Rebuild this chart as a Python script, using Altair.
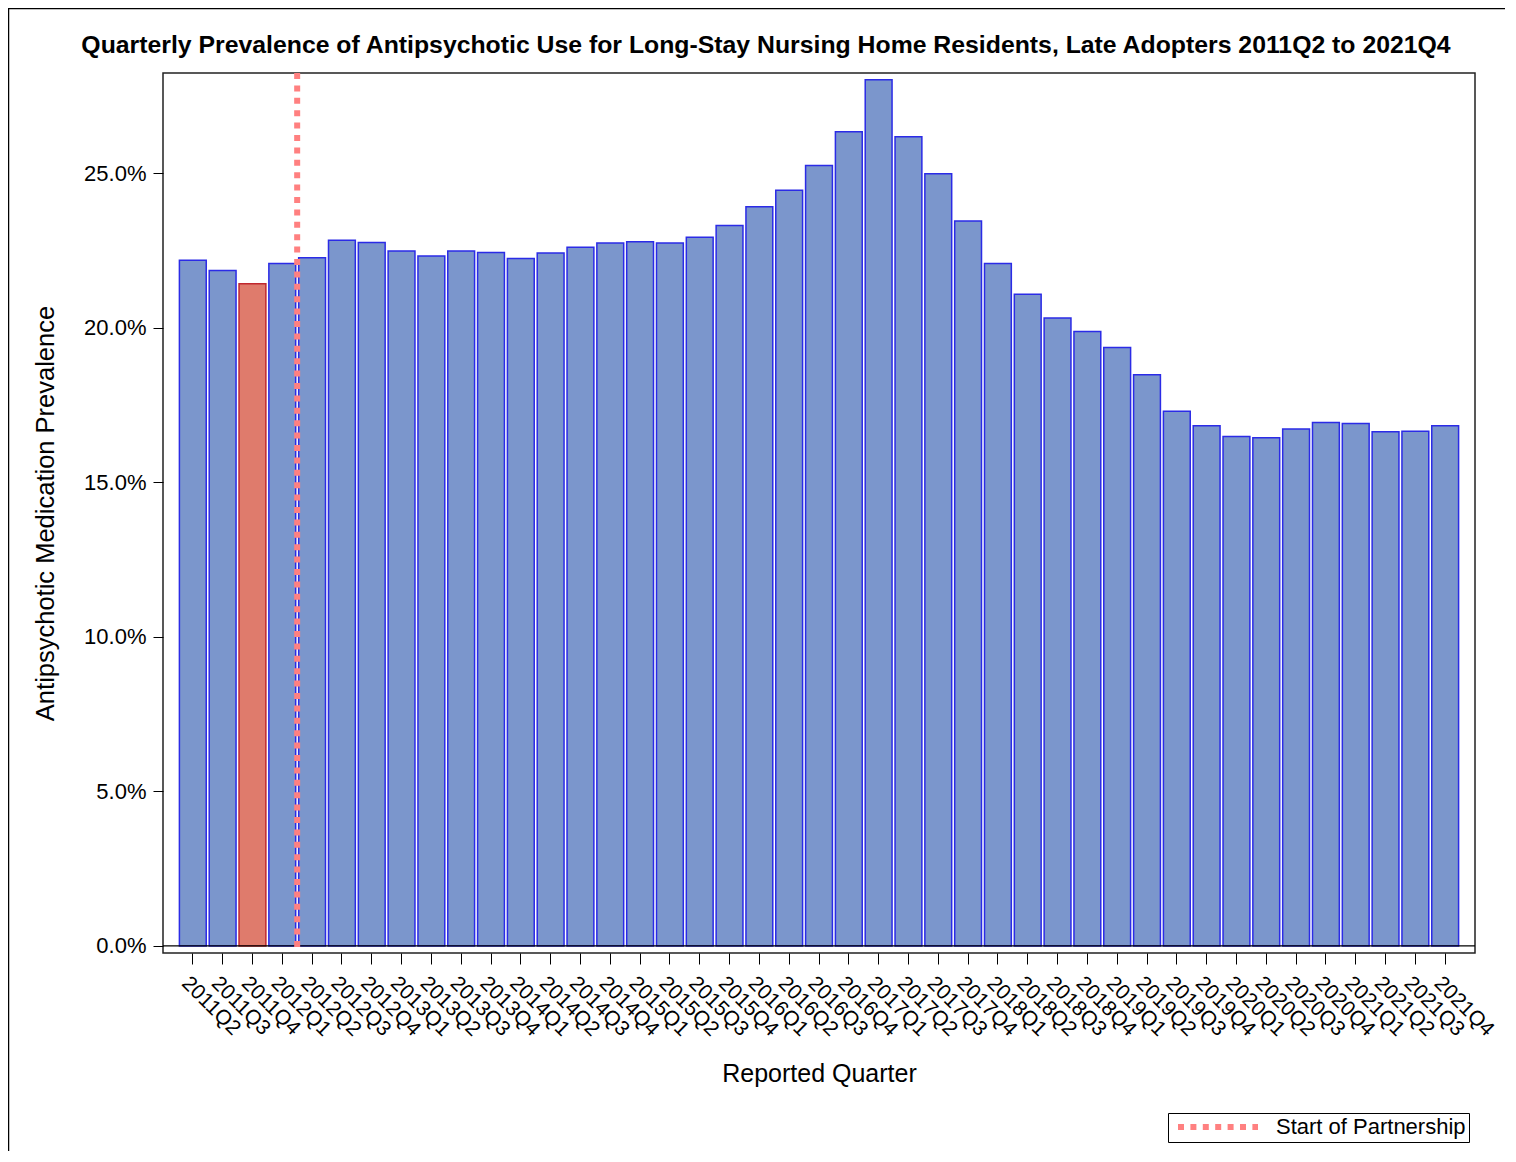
import altair as alt
import pandas as pd

quarters = [
    "2011Q2", "2011Q3", "2011Q4",
    "2012Q1", "2012Q2", "2012Q3", "2012Q4",
    "2013Q1", "2013Q2", "2013Q3", "2013Q4",
    "2014Q1", "2014Q2", "2014Q3", "2014Q4",
    "2015Q1", "2015Q2", "2015Q3", "2015Q4",
    "2016Q1", "2016Q2", "2016Q3", "2016Q4",
    "2017Q1", "2017Q2", "2017Q3", "2017Q4",
    "2018Q1", "2018Q2", "2018Q3", "2018Q4",
    "2019Q1", "2019Q2", "2019Q3", "2019Q4",
    "2020Q1", "2020Q2", "2020Q3", "2020Q4",
    "2021Q1", "2021Q2", "2021Q3", "2021Q4",
]
prevalence = [
    22.18, 21.85, 21.42,
    22.08, 22.26, 22.83, 22.76,
    22.48, 22.32, 22.48, 22.43,
    22.24, 22.42, 22.60, 22.74,
    22.78, 22.74, 22.93, 23.31,
    23.91, 24.45, 25.25, 26.34,
    28.02, 26.18, 24.98, 23.45,
    22.08, 21.08, 20.31, 19.88,
    19.36, 18.48, 17.30, 16.83,
    16.48, 16.44, 16.72, 16.93,
    16.90, 16.63, 16.65, 16.83,
]
highlight_quarter = "2011Q4"
partnership_quarter = "2012Q2"
partnership_label = "Start of Partnership"

FONT = "Liberation Sans"
W, H = 1312, 880

df = pd.DataFrame({"quarter": quarters, "prev": prevalence})
df["grp"] = ["hi" if q == highlight_quarter else "base" for q in quarters]

x_enc = alt.X(
    "quarter:N",
    sort=quarters,
    scale=alt.Scale(domain=quarters, paddingInner=0.1, paddingOuter=0.55),
    axis=alt.Axis(
        title="Reported Quarter",
        labelAngle=45,
        labelFontSize=21,
        labelFont=FONT,
        labelColor="black",
        labelPadding=8,
        tickSize=11,
        tickColor="black",
        domain=False,
        titleFontSize=25,
        titleFont=FONT,
        titleFontWeight="normal",
        titleColor="black",
        titlePadding=22,
    ),
)

bars = alt.Chart(df).mark_bar(strokeWidth=1.5).encode(
    x=x_enc,
    y=alt.Y(
        "prev:Q",
        scale=alt.Scale(domain=[-0.23, 28.24], nice=False, zero=False),
        axis=alt.Axis(
            title="Antipsychotic Medication Prevalence",
            values=[0, 5, 10, 15, 20, 25],
            labelExpr="format(datum.value, '.1f') + '%'",
            labelFontSize=22,
            labelFont=FONT,
            labelColor="black",
            labelPadding=7,
            tickSize=10,
            tickColor="black",
            domain=False,
            grid=False,
            titleFontSize=25.5,
            titleFont=FONT,
            titleFontWeight="normal",
            titleColor="black",
            titlePadding=25,
        ),
    ),
    fill=alt.Fill("grp:N", scale=alt.Scale(domain=["base", "hi"], range=["#7b96cc", "#df7b6c"]), legend=None),
    stroke=alt.Stroke("grp:N", scale=alt.Scale(domain=["base", "hi"], range=["#2b2be6", "#c0282e"]), legend=None),
)

zero_df = pd.DataFrame({"y": [0]})
zero_line = alt.Chart(zero_df).mark_rule(color="black", strokeWidth=1.2).encode(
    y="y:Q",
    x=alt.value(0),
    x2=alt.value(W),
)

part_df = pd.DataFrame({"quarter": [partnership_quarter], "label": [partnership_label]})
part_line = alt.Chart(part_df).mark_rule(strokeWidth=6, strokeDash=[6, 6.4], xOffset=-1.5).encode(
    x=alt.X("quarter:N", sort=quarters, bandPosition=0),
    color=alt.Color(
        "label:N",
        scale=alt.Scale(range=["#ff8080"]),
        legend=alt.Legend(
            title=None,
            orient="none",
            legendX=1005,
            legendY=1040,
            symbolType="M-5,0H5",
            symbolSize=256,
            symbolStrokeWidth=6,
            symbolDash=[6, 6.4],
            symbolOffset=36,
            labelFontSize=22,
            labelFont=FONT,
            labelColor="black",
            labelOffset=47,
            labelLimit=500,
            padding=3,
            strokeColor="black",
            fillColor="white",
            cornerRadius=0,
        ),
    ),
)

border_df = pd.DataFrame({"k": [0]})
border_left = alt.Chart(border_df).mark_rule(color="black", strokeWidth=1.5).encode(
    x=alt.value(-154.5), y=alt.value(-65), y2=alt.value(H + 200)
)
border_top = alt.Chart(border_df).mark_rule(color="black", strokeWidth=1.5).encode(
    y=alt.value(-64.5), x=alt.value(-155), x2=alt.value(W + 40)
)

chart = alt.layer(bars, zero_line, part_line, border_left, border_top).properties(
    width=W,
    height=H,
    title=alt.TitleParams(
        text="Quarterly Prevalence of Antipsychotic Use for Long-Stay Nursing Home Residents, Late Adopters 2011Q2 to 2021Q4",
        fontSize=24.8,
        fontWeight="bold",
        font=FONT,
        color="black",
        anchor="middle",
        dx=-53,
        offset=-51,
    ),
    autosize=alt.AutoSizeParams(type="none"),
    padding={"left": 155, "top": 65, "right": 30, "bottom": 198},
).configure(
    background="white"
).configure_view(
    stroke="#222222", strokeWidth=1.5
)

chart.save("out.html", embed_options={"renderer": "svg", "actions": False})
